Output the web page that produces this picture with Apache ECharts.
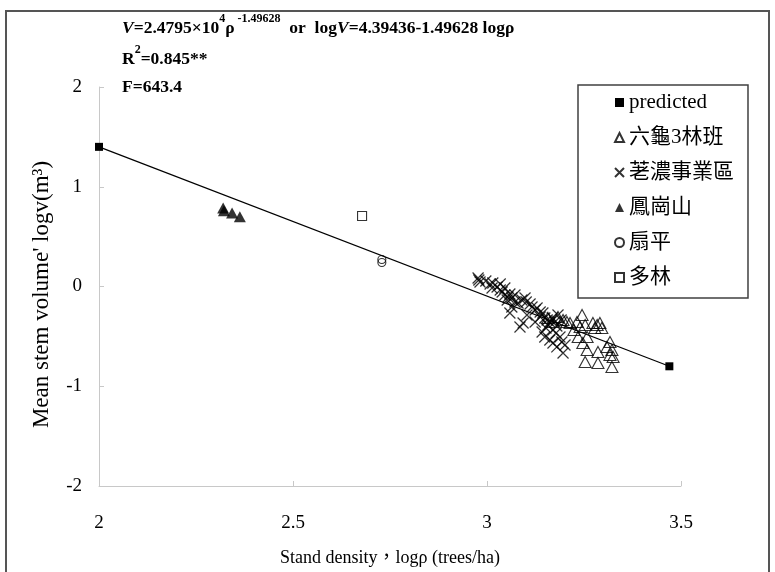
<!DOCTYPE html>
<html>
<head>
<meta charset="utf-8">
<script src="https://cdn.jsdelivr.net/npm/echarts@6/dist/echarts.min.js"></script>
<style>
html,body{margin:0;padding:0;background:#fff;}
#chart{width:775px;height:572px;}
</style>
</head>
<body>
<div id="chart"></div>
<script>
// ---- Data ----
const xTicks = [2, 2.5, 3, 3.5];
const yTicks = [-2, -1, 0, 1, 2];
const seriesNames = ['predicted', '六龜3林班', '荖濃事業區', '鳳崗山', '扇平', '多林'];

const predicted = [[2.00, 1.40], [3.47, -0.80]];

const liugui = [
  [3.196, -0.336], [3.206, -0.356], [3.214, -0.366], [3.232, -0.356], [3.245, -0.286],
  [3.240, -0.406], [3.253, -0.386], [3.273, -0.366], [3.284, -0.386], [3.291, -0.366],
  [3.278, -0.416], [3.296, -0.416], [3.235, -0.506], [3.258, -0.506], [3.247, -0.566],
  [3.258, -0.637], [3.286, -0.657], [3.317, -0.556], [3.309, -0.607], [3.322, -0.637],
  [3.317, -0.687], [3.325, -0.707], [3.253, -0.757], [3.286, -0.767], [3.322, -0.807],
  [3.170, -0.356], [3.157, -0.316], [3.183, -0.306], [3.224, -0.436]
];

const laonong = [
  [2.977, 0.085], [2.979, 0.065], [2.982, 0.045], [2.997, 0.055], [3.008, 0.025],
  [3.015, 0.035], [3.013, -0.015], [3.026, -0.005], [3.034, -0.035], [3.039, -0.055],
  [3.046, -0.085], [3.054, -0.105], [3.059, -0.075], [3.064, -0.115], [3.052, -0.135],
  [3.072, -0.155], [3.064, -0.206], [3.059, -0.266], [3.085, -0.406], [3.080, -0.165],
  [3.090, -0.135], [3.101, -0.155], [3.111, -0.175], [3.116, -0.206], [3.124, -0.236],
  [3.129, -0.216], [3.137, -0.256], [3.137, -0.306], [3.144, -0.266], [3.149, -0.316],
  [3.155, -0.336], [3.162, -0.356], [3.157, -0.386], [3.168, -0.316], [3.175, -0.356],
  [3.180, -0.396], [3.170, -0.436], [3.178, -0.466], [3.142, -0.456], [3.149, -0.506],
  [3.162, -0.536], [3.170, -0.566], [3.180, -0.606], [3.196, -0.667], [3.188, -0.506],
  [3.193, -0.556], [3.201, -0.586], [3.093, -0.366], [3.103, -0.286], [3.124, -0.356],
  [3.152, -0.416], [3.034, 0.025], [3.046, -0.015], [3.072, -0.085], [3.098, -0.115],
  [3.183, -0.286], [3.191, -0.336]
];

const fenggang = [[2.320, 0.787], [2.322, 0.760], [2.343, 0.737], [2.363, 0.700]];
const shanping = [[2.729, 0.270], [2.729, 0.240]];
const duolin = [[2.678, 0.707]];

// ---- Chart ----
const serif = "'Liberation Serif', 'Times New Roman', 'Noto Sans CJK TC', serif";
const xPath = 'path://M0,0L10,10M10,0L0,10';

const chart = echarts.init(document.getElementById('chart'), null, {renderer: 'canvas'});

const bold = {fontFamily: serif, fontWeight: 'bold', fontSize: 17.5, lineHeight: 24, verticalAlign: 'bottom', fill: '#000'};
const rich = {
  b: Object.assign({}, bold),
  vi: Object.assign({}, bold, {fontStyle: 'italic'}),
  sup: {fontFamily: serif, fontWeight: 'bold', fontSize: 12, lineHeight: 10, verticalAlign: 'top', fill: '#000'}
};

const option = {
  backgroundColor: '#fff',
  animation: false,
  grid: {left: 99, top: 87, width: 582, height: 399, containLabel: false, outerBoundsMode: 'none'},
  xAxis: {
    type: 'value', min: xTicks[0], max: xTicks[xTicks.length - 1], interval: 0.5,
    name: 'Stand density，logρ (trees/ha)', nameLocation: 'middle', nameGap: 63,
    nameTextStyle: {fontFamily: serif, fontSize: 18, color: '#000'},
    axisLine: {onZero: false, lineStyle: {color: '#c8c8c8', width: 1}},
    axisTick: {inside: true, length: 5, lineStyle: {color: '#c8c8c8'}},
    axisLabel: {margin: 28, fontFamily: serif, fontSize: 19, color: '#000'},
    splitLine: {show: false}
  },
  yAxis: {
    type: 'value', min: yTicks[0], max: yTicks[yTicks.length - 1], interval: 1,
    name: "Mean stem volume' logv(m³)", nameLocation: 'middle', nameGap: 46, nameRotate: 90,
    nameTextStyle: {fontFamily: serif, fontSize: 23, color: '#000', padding: [0, 16, 0, 0]},
    axisLine: {show: true, onZero: false, lineStyle: {color: '#c8c8c8', width: 1}},
    axisTick: {show: true, inside: true, length: 5, lineStyle: {color: '#c8c8c8'}},
    axisLabel: {margin: 17, fontFamily: serif, fontSize: 19, color: '#000'},
    splitLine: {show: false}
  },
  legend: {
    orient: 'vertical', left: 578, top: 85,
    padding: [7, 14, 10, 36],
    itemGap: 14, itemWidth: 9, itemHeight: 9,
    borderColor: '#404040', borderWidth: 1.5,
    textStyle: {fontFamily: serif, fontSize: 21, color: '#000', lineHeight: 20},
    data: [
      {name: seriesNames[0], icon: 'rect', itemStyle: {color: '#000'}},
      {name: seriesNames[1], icon: 'triangle'},
      {name: seriesNames[2], icon: xPath},
      {name: seriesNames[3], icon: 'triangle'},
      {name: seriesNames[4], icon: 'circle'},
      {name: seriesNames[5], icon: 'rect'}
    ]
  },
  graphic: [
    {type: 'rect', z: -1, shape: {x: 6, y: 11, width: 763, height: 580},
     style: {fill: 'none', stroke: '#555', lineWidth: 2}},
    {type: 'text', left: 122, top: 13,
     style: {text: '{vi|V}{b|=2.4795×10}{sup|4}{b|ρ}{sup| -1.49628}{b|  or  log}{vi|V}{b|=4.39436-1.49628 logρ}', rich: rich}},
    {type: 'text', left: 122, top: 44,
     style: {text: '{b|R}{sup|2}{b|=0.845**}', rich: rich}},
    {type: 'text', left: 122, top: 79,
     style: {text: '{b|F=643.4}', rich: rich}}
  ],
  series: [
    {
      name: seriesNames[0], type: 'line', data: predicted,
      symbol: 'rect', symbolSize: 8, showSymbol: true,
      lineStyle: {color: '#000', width: 1.2},
      itemStyle: {color: '#000'}, z: 3
    },
    {
      name: seriesNames[1], type: 'scatter', data: liugui,
      symbol: 'triangle', symbolSize: [12, 11],
      itemStyle: {color: 'rgba(255,255,255,0)', borderColor: '#000', borderWidth: 1.1}
    },
    {
      name: seriesNames[2], type: 'scatter', data: laonong,
      symbol: xPath, symbolSize: 11,
      itemStyle: {color: 'rgba(255,255,255,0)', borderColor: '#000', borderWidth: 1.2}
    },
    {
      name: seriesNames[3], type: 'scatter', data: fenggang,
      symbol: 'triangle', symbolSize: [12, 11],
      itemStyle: {color: '#000'}
    },
    {
      name: seriesNames[4], type: 'scatter', data: shanping,
      symbol: 'circle', symbolSize: 8,
      itemStyle: {color: 'rgba(255,255,255,0)', borderColor: '#000', borderWidth: 1.1}
    },
    {
      name: seriesNames[5], type: 'scatter', data: duolin,
      symbol: 'rect', symbolSize: 9,
      itemStyle: {color: '#fff', borderColor: '#000', borderWidth: 1.1}
    }
  ]
};
chart.setOption(option);
</script>
</body>
</html>
